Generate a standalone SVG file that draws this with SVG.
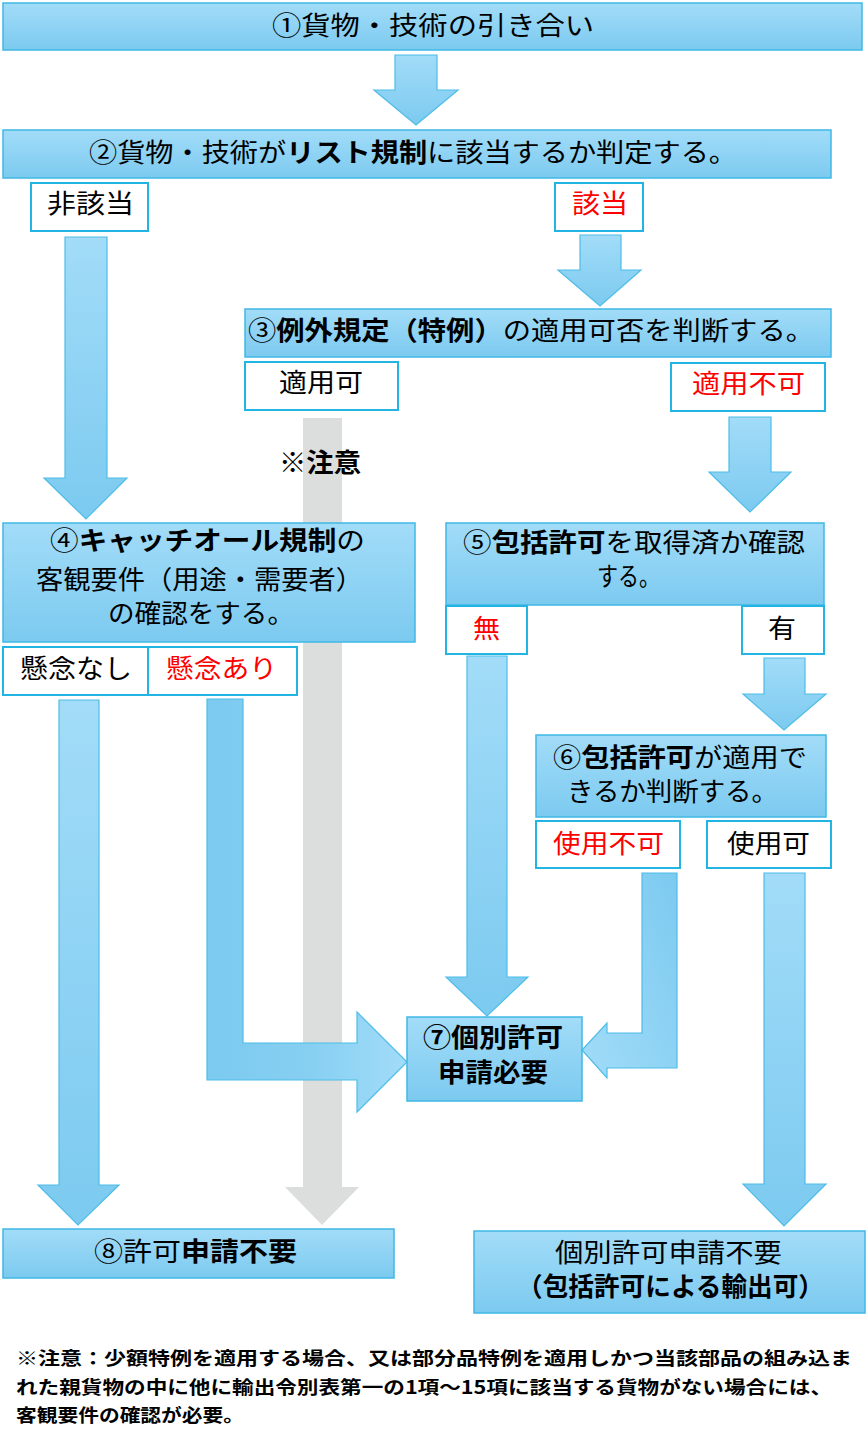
<svg xmlns="http://www.w3.org/2000/svg" width="867" height="1438" viewBox="0 0 867 1438">
<defs>
<linearGradient id="gBox" x1="0" y1="0" x2="0" y2="1">
<stop offset="0" stop-color="#a2dcf8"/>
<stop offset="1" stop-color="#7ccaf0"/>
</linearGradient>
<linearGradient id="gArr" x1="0" y1="0" x2="0" y2="1">
<stop offset="0" stop-color="#a2dcf8"/>
<stop offset="1" stop-color="#7ccaf0"/>
</linearGradient>
<linearGradient id="gBendL" x1="0" y1="0" x2="1" y2="0">
<stop offset="0" stop-color="#7ccaf0"/>
<stop offset="0.5" stop-color="#86cff2"/>
<stop offset="1" stop-color="#a2dcf8"/>
</linearGradient>
<linearGradient id="gBendR" x1="1" y1="0" x2="0" y2="1">
<stop offset="0" stop-color="#7ccaf0"/>
<stop offset="1" stop-color="#a2dcf8"/>
</linearGradient>
<style>
.box{fill:url(#gBox);stroke:#3fb8e4;stroke-width:1.5}
.lbl{fill:#ffffff;stroke:#22b4e3;stroke-width:2}
.arr{fill:url(#gArr);stroke:#4dbde8;stroke-width:1.2}
.gray{fill:#dcdddd}
text{font-family:"Noto Sans CJK JP","Noto Sans CJK SC",sans-serif;font-size:26px;fill:#000000}
.b{font-weight:bold}
.red{fill:#ff0000}
.note{font-size:18px;font-weight:bold}
</style>
</defs>
<rect width="867" height="1438" fill="#ffffff"/>

<g id="connectors">
<polygon class="gray" points="303,418 342,418 342,1187 359,1187 322,1225 285,1187 303,1187"/>
<polygon class="arr" points="395,55 437,55 437,90 458,90 416,125 374,90 395,90"/>
<polygon class="arr" points="65,237 107,237 107,478 127,478 86,519 44,478 65,478"/>
<polygon class="arr" points="580,235 621,235 621,270 641,270 600,306 558,270 580,270"/>
<polygon class="arr" points="729,417 771,417 771,472 791,472 750,512 709,472 729,472"/>
<polygon class="arr" points="764,658 805,658 805,694 826,694 784,730 743,694 764,694"/>
<polygon class="arr" points="467,656 507,656 507,977 528,977 487,1016 446,977 467,977"/>
<polygon class="arr" points="59,700 99,700 99,1185 119,1185 78,1225 38,1185 59,1185"/>
<polygon class="arr" points="764,873 805,873 805,1184 826,1184 784,1226 743,1184 764,1184"/>
<polygon class="arr" style="fill:url(#gBendL)" points="207,699 243,699 243,1043 357,1043 357,1012 407,1062 357,1112 357,1080 207,1080"/>
<polygon class="arr" style="fill:url(#gBendR)" points="642,873 677,873 677,1068 607,1068 607,1078 582,1050 607,1023 607,1033 642,1033"/>
</g>

<g id="n1">
<rect class="box" x="3" y="3" width="859" height="47"/>
<text x="272" y="35" textLength="322" lengthAdjust="spacingAndGlyphs">①貨物・技術の引き合い</text>
</g>

<g id="n2">
<rect class="box" x="3" y="130" width="828" height="48"/>
<text x="89" y="162" textLength="648" lengthAdjust="spacingAndGlyphs">②貨物・技術が<tspan class="b">リスト規制</tspan>に該当するか判定する。</text>
</g>

<g id="l-higaitou">
<rect class="lbl" x="31" y="183" width="117" height="48"/>
<text x="47" y="213" textLength="87" lengthAdjust="spacingAndGlyphs">非該当</text>
</g>

<g id="l-gaitou">
<rect class="lbl" x="555" y="183" width="88" height="48"/>
<text class="red" x="572" y="213" textLength="56" lengthAdjust="spacingAndGlyphs">該当</text>
</g>

<g id="n3">
<rect class="box" x="245" y="309" width="586" height="48"/>
<text x="248" y="340" textLength="566" lengthAdjust="spacingAndGlyphs">③<tspan class="b">例外規定（特例）</tspan>の適用可否を判断する。</text>
</g>

<g id="l-tekiyouka">
<rect class="lbl" x="245" y="362" width="153" height="48"/>
<text x="279" y="392" textLength="84" lengthAdjust="spacingAndGlyphs">適用可</text>
</g>

<g id="l-tekiyoufuka">
<rect class="lbl" x="671" y="363" width="154" height="48"/>
<text class="red" x="692" y="393" textLength="113" lengthAdjust="spacingAndGlyphs">適用不可</text>
</g>

<g id="chuui">
<text class="b" x="279" y="472" textLength="82" lengthAdjust="spacingAndGlyphs">※注意</text>
</g>

<g id="n4">
<rect class="box" x="3" y="523" width="412" height="119"/>
<text x="50" y="550" textLength="315" lengthAdjust="spacingAndGlyphs">④<tspan class="b">キャッチオール規制</tspan>の</text>
<text x="36" y="589" textLength="327" lengthAdjust="spacingAndGlyphs">客観要件（用途・需要者）</text>
<text x="108" y="623" textLength="186" lengthAdjust="spacingAndGlyphs">の確認をする。</text>
</g>

<g id="l-kenennashi">
<rect class="lbl" x="3" y="647" width="145" height="48"/>
<text x="20" y="678" textLength="112" lengthAdjust="spacingAndGlyphs">懸念なし</text>
</g>

<g id="l-kenenari">
<rect class="lbl" x="148" y="647" width="149" height="48"/>
<text class="red" x="166" y="678" textLength="111" lengthAdjust="spacingAndGlyphs">懸念あり</text>
</g>

<g id="n5">
<rect class="box" x="446" y="523" width="378" height="82"/>
<text x="463" y="552" textLength="342" lengthAdjust="spacingAndGlyphs">⑤<tspan class="b">包括許可</tspan>を取得済か確認</text>
<text x="597" y="586" textLength="63" lengthAdjust="spacingAndGlyphs">する。</text>
</g>

<g id="l-mu">
<rect class="lbl" x="446" y="606" width="81" height="48"/>
<text class="red" x="473" y="638" textLength="27" lengthAdjust="spacingAndGlyphs">無</text>
</g>

<g id="l-u">
<rect class="lbl" x="742" y="606" width="82" height="48"/>
<text x="768" y="638" textLength="28" lengthAdjust="spacingAndGlyphs">有</text>
</g>

<g id="n6">
<rect class="box" x="536" y="735" width="290" height="82"/>
<text x="553" y="767" textLength="254" lengthAdjust="spacingAndGlyphs">⑥<tspan class="b">包括許可</tspan>が適用で</text>
<text x="567" y="801" textLength="211" lengthAdjust="spacingAndGlyphs">きるか判断する。</text>
</g>

<g id="l-shiyoufuka">
<rect class="lbl" x="536" y="821" width="144" height="47"/>
<text class="red" x="553" y="853" textLength="111" lengthAdjust="spacingAndGlyphs">使用不可</text>
</g>

<g id="l-shiyouka">
<rect class="lbl" x="707" y="821" width="124" height="47"/>
<text x="727" y="853" textLength="83" lengthAdjust="spacingAndGlyphs">使用可</text>
</g>

<g id="n7">
<rect class="box" x="407" y="1017" width="175" height="84"/>
<text class="b" x="423" y="1047" textLength="140" lengthAdjust="spacingAndGlyphs">⑦個別許可</text>
<text class="b" x="438" y="1082" textLength="110" lengthAdjust="spacingAndGlyphs">申請必要</text>
</g>

<g id="n8">
<rect class="box" x="3" y="1229" width="391" height="49"/>
<text x="94" y="1261" textLength="203" lengthAdjust="spacingAndGlyphs">⑧許可<tspan class="b">申請不要</tspan></text>
</g>

<g id="n9">
<rect class="box" x="474" y="1231" width="391" height="82"/>
<text x="555" y="1262" textLength="227" lengthAdjust="spacingAndGlyphs">個別許可申請不要</text>
<text class="b" x="517" y="1296" textLength="307" lengthAdjust="spacingAndGlyphs">（包括許可による輸出可）</text>
</g>

<g id="footnote">
<text class="note" x="16" y="1365" textLength="836" lengthAdjust="spacingAndGlyphs">※注意：少額特例を適用する場合、又は部分品特例を適用しかつ当該部品の組み込ま</text>
<text class="note" x="16" y="1394" textLength="816" lengthAdjust="spacingAndGlyphs">れた親貨物の中に他に輸出令別表第一の1項～15項に該当する貨物がない場合には、</text>
<text class="note" x="16" y="1422" textLength="228" lengthAdjust="spacingAndGlyphs">客観要件の確認が必要。</text>
</g>
</svg>
